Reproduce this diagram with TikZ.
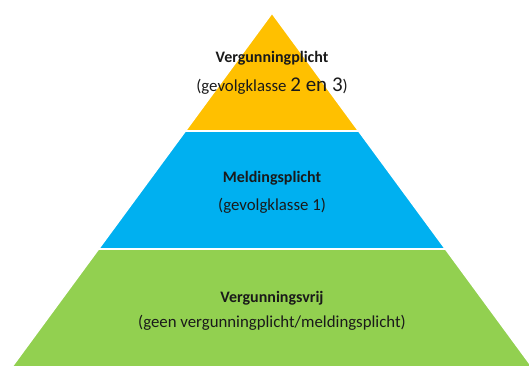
\documentclass[tikz,border=0pt]{standalone}
\usepackage{fontspec}
\setmainfont{Carlito}
\definecolor{pyrYellow}{HTML}{FFC000}
\definecolor{pyrBlue}{HTML}{00B0F0}
\definecolor{pyrGreen}{HTML}{92D050}
\definecolor{txt}{HTML}{1A1A1A}
\begin{document}
\begin{tikzpicture}[x=1pt,y=-1pt,
  band/.style={draw=white,line width=1.6pt,line join=miter},
  title/.style={font=\fontsize{16}{19}\selectfont\bfseries,text=txt,inner sep=0pt,anchor=center},
  sub/.style={font=\fontsize{16.8}{20}\selectfont,text=txt,inner sep=0pt,anchor=center}]
\useasboundingbox (0,0) rectangle (529,365);
% pyramid: apex (272,13), half-width = 0.735*(y-13)
\path[band,fill=pyrYellow] (272,13) -- (358.7,131) -- (185.3,131) -- cycle;
\path[band,fill=pyrBlue] (185.3,131) -- (358.7,131) -- (445.5,249) -- (98.5,249) -- cycle;
\path[band,fill=pyrGreen] (98.5,249) -- (445.5,249) -- (540,377.6) -- (4,377.6) -- cycle;
\node[title] (t1) at (272,58) {Vergunningplicht};
\node[sub] (s1) at (272,86) {(gevolgklasse {\fontsize{21}{24}\selectfont 2 en 3})};
\node[title] (t2) at (272,178) {Meldingsplicht};
\node[sub] (s2) at (272,206) {(gevolgklasse 1)};
\node[title] (t3) at (272,298) {Vergunningsvrij};
\node[sub] (s3) at (272,323) {(geen vergunningplicht/meldingsplicht)};
\end{tikzpicture}
\end{document}
